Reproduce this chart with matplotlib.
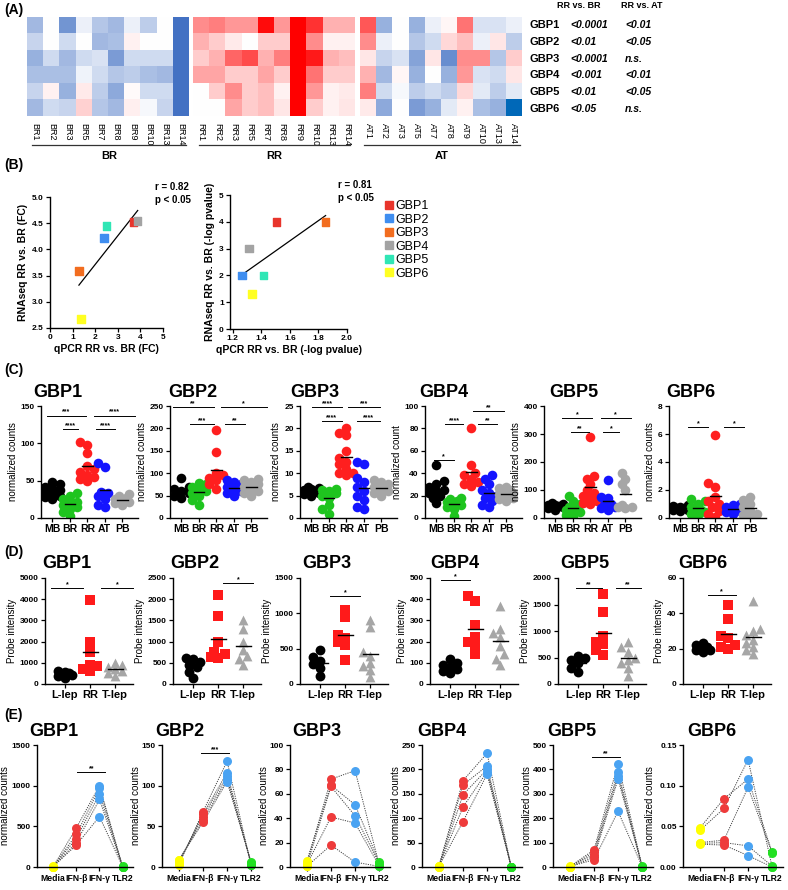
import numpy as np
import matplotlib
matplotlib.use('Agg')
import matplotlib.pyplot as plt
from matplotlib.colors import LinearSegmentedColormap, Normalize
from matplotlib.lines import Line2D

plt.rcParams['font.family'] = ['Liberation Sans', 'DejaVu Sans']

# ---------------- data ----------------
genes = ['GBP1', 'GBP2', 'GBP3', 'GBP4', 'GBP5', 'GBP6']

# (A) heatmap, rows GBP1..GBP6, z-score like values
br_samples = ['BR1', 'BR2', 'BR3', 'BR5', 'BR7', 'BR8', 'BR9', 'BR10', 'BR13', 'BR14']
rr_samples = ['RR1', 'RR2', 'RR3', 'RR5', 'RR7', 'RR8', 'RR9', 'RR10', 'RR13', 'RR14']
at_samples = ['AT1', 'AT2', 'AT3', 'AT5', 'AT7', 'AT8', 'AT9', 'AT10', 'AT13', 'AT14']
br_heat = [[-0.5, 0, -0.75, -0.1, -0.4, -0.5, -0.1, -0.35, 0, -1],
           [-0.3, 0, -0.25, 0, -0.5, -0.45, 0.05, 0, 0, -1],
           [-0.55, -0.25, -0.5, -0.25, -0.2, -0.7, -0.25, -0.25, -0.25, -1],
           [-0.45, -0.45, -0.45, -0.08, -0.25, -0.4, -0.35, -0.45, -0.5, -1],
           [-0.3, 0.05, -0.55, 0.08, -0.35, -0.6, 0.02, -0.25, -0.25, -1],
           [-0.5, -0.25, -0.3, 0.18, -0.4, -0.5, 0.06, -0.05, -0.3, -1]]
rr_heat = [[0.45, 0.5, 0.4, 0.4, 0.95, 0.4, 1, 0.8, 0.3, 0.3],
           [0.3, 0.2, 0.08, 0, 0.2, 0.2, 1, 0.45, 0.05, 0.05],
           [0.2, 0.3, 0.6, 0.7, 0.3, 0.5, 1, 0.9, 0.3, 0.25],
           [0.35, 0.35, 0.2, 0.2, 0.35, 0.2, 1, 0.55, 0.2, 0.2],
           [0, 0.2, 0.45, 0.2, 0.25, 0.05, 1, 0.4, 0.05, 0.08],
           [0, 0, 0.35, 0.2, 0.25, 0.1, 1, 0.2, 0.05, 0.1]]
at_heat = [[0.65, -0.55, 0, -0.55, -0.1, 0.03, 0.55, -0.2, -0.2, -0.1],
           [0.45, -0.1, 0, -0.4, -0.25, 0.15, 0.25, -0.1, 0.1, -0.35],
           [0.1, -0.3, -0.2, -0.65, 0.1, -0.8, 0.45, 0.45, -0.4, 0.2],
           [0.3, -0.5, 0.03, -0.55, 0, -0.55, 0.4, -0.2, -0.25, 0.1],
           [0.5, -0.25, -0.05, -0.35, -0.25, -0.35, 0.15, -0.15, -0.35, -0.15],
           [0.08, -0.6, 0, -0.7, -0.55, -0.15, 0.05, -0.45, -0.55, -1.3]]
p_rr_br = ['<0.0001', '<0.01', '<0.0001', '<0.001', '<0.01', '<0.05']
p_rr_at = ['<0.01', '<0.05', 'n.s.', '<0.01', '<0.05', 'n.s.']

# (B) correlation
gbp_colors = ['#e8352c', '#3f8ef0', '#f26d1f', '#a3a3a3', '#30e6b5', '#ffff22']
qpcr_fc = [3.7, 2.4, 1.28, 3.88, 2.5, 1.37]
rnaseq_fc = [4.52, 4.22, 3.59, 4.54, 4.45, 2.67]
qpcr_logp = [1.507, 1.264, 1.85, 1.314, 1.414, 1.336]
rnaseq_logp = [4, 2, 4, 3, 2, 1.3]

# (C) RNAseq normalized counts: MB, BR, RR, AT, PB
c_groups = ['MB', 'BR', 'RR', 'AT', 'PB']
c_colors = ['black', '#1fc41f', '#ff1f1f', '#1414ff', '#a6a6a6']
c_gbp1 = [[26, 28, 30, 33, 35, 37, 40, 42, 45, 48], [3, 8, 12, 15, 18, 20, 22, 26, 30, 33],
          [50, 52, 55, 58, 62, 65, 70, 87, 98, 102], [15, 18, 25, 30, 33, 35, 68, 73],
          [17, 20, 22, 24, 25, 27, 30, 32]]
c_gbp2 = [[45, 50, 55, 60, 65, 70, 90], [28, 40, 50, 55, 60, 65, 70, 75, 78],
          [65, 75, 85, 90, 95, 100, 148, 196], [50, 55, 60, 65, 70, 75, 80, 85],
          [50, 55, 60, 65, 70, 75, 80, 85, 88]]
c_gbp3 = [[5, 5.3, 5.6, 5.8, 6, 6.2, 6.5, 6.8, 7], [1, 2, 3, 4.5, 5, 5.5, 6, 6.2, 6.4],
          [9.5, 10, 10, 11, 12, 12.5, 13.5, 15, 18.5, 19, 20], [2, 2.5, 4, 5, 6, 7, 8, 9, 12, 12.5],
          [5, 5.5, 6, 6.5, 7, 7.5, 8, 8.5]]
c_gbp4 = [[13, 18, 20, 22, 24, 25, 28, 30, 33, 47], [2, 8, 10, 12, 13, 14, 15, 17, 18],
          [29, 30, 32, 35, 38, 40, 47, 80], [10, 12, 15, 18, 20, 22, 25, 30, 35, 38],
          [15, 17, 18, 20, 21, 22, 23, 25, 27, 28]]
c_gbp5 = [[30, 35, 38, 40, 42, 45, 48, 50, 55], [5, 10, 20, 25, 30, 35, 40, 50, 60, 80],
          [50, 55, 60, 70, 80, 90, 100, 120, 140, 150, 290], [30, 35, 40, 45, 50, 70, 75, 135],
          [35, 38, 40, 45, 100, 120, 140, 160]]
c_gbp6 = [[0.5, 0.55, 0.6, 0.7, 0.75, 0.8, 0.85, 0.9], [0.2, 0.3, 0.4, 0.5, 0.6, 0.8, 1.0, 1.2, 1.35],
          [0.1, 0.3, 0.5, 0.8, 1.0, 1.2, 1.5, 2.2, 2.5, 5.9], [0.3, 0.4, 0.5, 0.6, 0.7, 0.8, 0.9, 1.0],
          [0.1, 0.2, 0.3, 0.5, 0.8, 1.0, 1.3, 1.5]]
c_data = [c_gbp1, c_gbp2, c_gbp3, c_gbp4, c_gbp5, c_gbp6]
c_ymax = [150, 250, 25, 100, 400, 8]
c_ystep = [50, 50, 5, 20, 100, 2]
c_ylabels = ['normalized counts'] * 3 + ['normalized count'] + ['normalized counts'] * 2
c_sig = [[(0.7, 2.9, 137, '***'), (3.4, 5.7, 137, '****'), (1.6, 2.45, 119, '****'), (3.5, 4.6, 119, '****')],
         [(0.5, 2.85, 248, '**'), (3.25, 5.9, 248, '*'), (1.5, 2.85, 210, '***'), (3.5, 4.65, 210, '**')],
         [(1.05, 2.75, 24.7, '****'), (3.1, 4.95, 24.7, '***'), (1.6, 2.75, 21.7, '****'), (3.6, 4.95, 21.7, '****')],
         [(3.1, 4.85, 95.5, '**'), (1.5, 2.55, 84, '****'), (3.4, 4.45, 84, '**'), (0.85, 2.0, 52, '*')],
         [(1.4, 3.1, 357, '*'), (3.6, 5.3, 357, '*'), (1.9, 2.9, 307, '**'), (3.7, 4.66, 307, '*')],
         [(1.46, 2.6, 6.5, '*'), (3.5, 4.66, 6.5, '*')]]

# (D) microarray probe intensity: L-lep, RR, T-lep
d_groups = ['L-lep', 'RR', 'T-lep']
d_gbp1 = [[270, 380, 420, 450, 500, 550, 600], [600, 700, 850, 900, 1500, 2000, 3950],
          [400, 500, 600, 700, 800, 900, 1000]]
d_gbp2 = [[130, 280, 400, 450, 520, 580, 620], [620, 640, 700, 750, 1000, 1600, 2100],
          [450, 600, 650, 800, 1000, 1300, 1500]]
d_gbp3 = [[120, 230, 280, 330, 380, 480], [340, 550, 600, 650, 700, 950, 1050],
          [100, 200, 250, 300, 400, 450, 800, 900]]
d_gbp4 = [[50, 60, 70, 80, 90, 100, 120], [140, 180, 200, 220, 280, 390, 415],
          [90, 120, 140, 180, 220, 240, 260, 370]]
d_gbp5 = [[220, 300, 400, 450, 500, 520], [550, 650, 750, 800, 900, 1350, 1700],
          [150, 300, 400, 450, 500, 600, 700, 800]]
d_gbp6 = [[18, 19, 19.5, 20, 21, 22, 23], [20, 21, 22, 26, 27, 37, 44.5],
          [17, 19, 21, 23, 25, 28, 30, 31, 47]]
d_data = [d_gbp1, d_gbp2, d_gbp3, d_gbp4, d_gbp5, d_gbp6]
d_ymax = [5000, 2500, 1500, 500, 2000, 60]
d_ystep = [1000, 500, 500, 100, 500, 20]
d_sig = [[(0.45, 1.7, 4530, '*'), (2.45, 3.7, 4530, '*')],
         [(2.2, 3.4, 2380, '*')],
         [(1.4, 2.6, 1245, '*')],
         [(0.65, 1.8, 490, '*')],
         [(0.9, 1.96, 1811, '**'), (2.5, 3.5, 1811, '**')],
         [(1.2, 2.3, 50.4, '*')]]

# (E) stimulated cells: Media, IFN-b, IFN-g, TLR2 (5 donors)
e_groups = ['Media', 'IFN-\u03b2', 'IFN-\u03b3', 'TLR2']
e_colors = ['#ffff00', '#ee3b3b', '#4aa3f2', '#22e022']
e_gbp1 = [[5, 3, 8, 2, 6], [480, 400, 350, 300, 270], [1000, 970, 900, 830, 620], [5, 3, 8, 2, 6]]
e_gbp2 = [[3, 5, 6, 8, 9], [68, 65, 62, 58, 55], [130, 116, 112, 108, 105], [2, 3, 4, 5, 6]]
e_gbp3 = [[3, 5, 1, 2, 0.5], [72, 67, 66, 41, 18], [79, 51, 42, 36, 4], [2, 4, 3, 1, 0.5]]
e_gbp4 = [[2, 1, 0.5, 1.5, 1], [177, 168, 148, 123, 93], [233, 207, 200, 195, 190], [1, 1, 1, 1, 1]]
e_gbp5 = [[2, 1, 3, 1, 2], [70, 60, 50, 40, 30], [423, 390, 375, 360, 228], [2, 1, 3, 1, 2]]
e_gbp6 = [[0.048, 0.045, 0.030, 0.029, 0.028], [0.084, 0.072, 0.033, 0.030, 0.027],
          [0.108, 0.132, 0.098, 0.026, 0.014], [0.018, 0.0, 0.017, 0.001, 0.0]]
e_data = [e_gbp1, e_gbp2, e_gbp3, e_gbp4, e_gbp5, e_gbp6]
e_ymax = [1500, 150, 100, 250, 500, 0.15]
e_ystep = [500, 50, 20, 50, 100, 0.05]
e_sig = [[(2.04, 3.25, 1168, '**')], [(1.9, 3.1, 140, '***')], [], [], [(1.9, 3.1, 451, '**')], []]

# ---------------- layout helpers ----------------
W, H = 788, 890
fig = plt.figure(figsize=(W / 100, H / 100), dpi=100)


def add_ax(l, t, r, b):
    return fig.add_axes([l / W, 1 - b / H, (r - l) / W, (b - t) / H])


def ftext(x, y, s, **kw):
    fig.text(x / W, 1 - y / H, s, **kw)


def fline(x1, x2, y, **kw):
    fig.add_artist(Line2D([x1 / W, x2 / W], [1 - y / H, 1 - y / H], **kw))


def style_ax(ax):
    for s in ['top', 'right']:
        ax.spines[s].set_visible(False)
    for s in ['left', 'bottom']:
        ax.spines[s].set_linewidth(1.0)
    ax.tick_params(direction='out', length=3, width=0.9, labelsize=6, pad=1.5)
    for lab in ax.get_yticklabels():
        lab.set_fontweight('bold')


def swarm(vals, y_unit, x_unit, diam=6.0):
    vals = np.asarray(vals, dtype=float)
    offs = np.zeros(len(vals))
    placed = []
    cands = [0, -1, 1, -2, 2]
    for i in np.argsort(vals):
        y = vals[i] * y_unit
        best, best_d = 0, -1
        for c in cands:
            x = c * diam * 0.55
            d = min([np.hypot(x - px, y - py) for px, py in placed] + [1e9])
            if d >= diam:
                best = x
                break
            if d > best_d:
                best, best_d = x, d
        placed.append((best, y))
        offs[i] = best / x_unit
    return offs


def draw_sig(ax, sigs, fs=5):
    for x1, x2, y, lab in sigs:
        ax.plot([x1, x2], [y, y], color='black', lw=0.7, clip_on=False)
        ax.text((x1 + x2) / 2, y, lab, ha='center', va='bottom', fontsize=fs,
                fontweight='bold', clip_on=False)


# ---------------- (A) heatmap ----------------
ftext(4, 10, '(A)', fontsize=10, fontweight='bold', va='center')
cmap = LinearSegmentedColormap.from_list(
    'bwr_gbp', [(0, '#0068b8'), (0.3 / 2.3, '#4472c4'), (1.3 / 2.3, '#ffffff'), (1, '#ff0000')])
norm = Normalize(vmin=-1.3, vmax=1.0)
blocks = [(br_heat, br_samples, 27, 189, 'BR', 32, 186),
          (rr_heat, rr_samples, 193, 355, 'RR', 199, 350),
          (at_heat, at_samples, 360, 522, 'AT', 364, 520)]
for heat, samples, x0, x1, grp, l0, l1 in blocks:
    ax = add_ax(x0, 17, x1, 116)
    ax.imshow(np.array(heat), cmap=cmap, norm=norm, aspect='auto', interpolation='nearest')
    ax.set_xticks(range(len(samples)))
    ax.set_xticklabels(samples, rotation=270, fontsize=6.5)
    ax.set_yticks([])
    ax.tick_params(axis='x', length=0, pad=5)
    for s in ax.spines.values():
        s.set_visible(False)
    fline(l0, l1, 145, color='#333333', lw=0.9)
    ftext((l0 + l1) / 2, 156, grp, ha='center', va='center', fontsize=8, fontweight='bold')

ftext(579, 5, 'RR vs. BR', ha='center', va='center', fontsize=6.5, fontweight='bold')
ftext(642, 5, 'RR vs. AT', ha='center', va='center', fontsize=6.5, fontweight='bold')
for i, g in enumerate(genes):
    y = 25.5 + i * 16.6
    ftext(529, y, g, va='center', fontsize=8, fontweight='bold')
    ftext(570, y, p_rr_br[i], va='center', fontsize=7.5, fontweight='bold', style='italic')
    ftext(625, y, p_rr_at[i], va='center', fontsize=7.5, fontweight='bold', style='italic')

# ---------------- (B) correlations ----------------
ftext(4, 165, '(B)', fontsize=10, fontweight='bold', va='center')
ax = add_ax(50, 197, 163, 328)
ax.scatter(qpcr_fc, rnaseq_fc, marker='s', s=30, c=gbp_colors, zorder=3)
fit = np.polyfit(qpcr_fc, rnaseq_fc, 1)
xs = np.array([min(qpcr_fc), max(qpcr_fc)])
ax.plot(xs, np.polyval(fit, xs), color='black', lw=0.9, zorder=2)
ax.set_xlim(0, 5)
ax.set_ylim(2.5, 5.0)
ax.set_xticks(range(6))
ax.set_yticks(np.arange(2.5, 5.01, 0.5))
ax.set_yticklabels(['%.1f' % v for v in np.arange(2.5, 5.01, 0.5)])
style_ax(ax)
for lab in ax.get_xticklabels():
    lab.set_fontweight('bold')
ax.set_xlabel('qPCR RR vs. BR (FC)', fontsize=7.5, fontweight='bold', labelpad=2)
ax.set_ylabel('RNAseq RR vs. BR (FC)', fontsize=7.5, fontweight='bold', labelpad=3)
ftext(155, 187, 'r = 0.82', fontsize=7, fontweight='bold', va='center')
ftext(155, 200, 'p < 0.05', fontsize=7, fontweight='bold', va='center')

ax = add_ax(230, 195, 347, 329)
ax.scatter(qpcr_logp, rnaseq_logp, marker='s', s=30, c=gbp_colors, zorder=3)
fit = np.polyfit(qpcr_logp, rnaseq_logp, 1)
xs = np.array([min(qpcr_logp), max(qpcr_logp)])
ax.plot(xs, np.polyval(fit, xs), color='black', lw=0.9, zorder=2)
ax.set_xlim(1.18, 2.0)
ax.set_ylim(0, 5)
ax.set_xticks([1.2, 1.4, 1.6, 1.8, 2.0])
ax.set_xticklabels(['1.2', '1.4', '1.6', '1.8', '2.0'])
ax.set_yticks(range(6))
style_ax(ax)
for lab in ax.get_xticklabels():
    lab.set_fontweight('bold')
ax.set_xlabel('qPCR RR vs. BR (-log pvalue)', fontsize=7.5, fontweight='bold', labelpad=2)
ax.set_ylabel('RNAseq RR vs. BR (-log pvalue)', fontsize=7.5, fontweight='bold', labelpad=3)
ftext(338, 185, 'r = 0.81', fontsize=7, fontweight='bold', va='center')
ftext(338, 198, 'p < 0.05', fontsize=7, fontweight='bold', va='center')

handles = [Line2D([], [], marker='s', ls='', color=c, ms=6) for c in gbp_colors]
fig.legend(handles, genes, loc='upper left', bbox_to_anchor=(378 / W, 1 - 194 / H),
           frameon=False, fontsize=9, handletextpad=0.1, labelspacing=0.12,
           handlelength=0.8, borderpad=0)

# ---------------- (C) RNAseq dot plots ----------------
ftext(4, 370, '(C)', fontsize=10, fontweight='bold', va='center')
c_left = [41, 170, 300, 425, 544, 669]
c_title_x = [33, 168, 290, 419, 549, 666]
c_top, c_bot = 406, 518
for k in range(6):
    ax = add_ax(c_left[k], c_top, c_left[k] + 97, c_bot)
    ymax = c_ymax[k]
    y_unit = (c_bot - c_top) / ymax
    for gi, vals in enumerate(c_data[k]):
        xo = swarm(vals, y_unit, 17.5, diam=6.5)
        ax.scatter(gi + 1 + xo, vals, s=48, color=c_colors[gi], zorder=2, linewidths=0)
        m = np.mean(vals)
        ax.plot([gi + 1 - 0.3, gi + 1 + 0.3], [m, m], color='black', lw=1.0, zorder=3)
    ax.set_xlim(0.35, 5.9)
    ax.set_ylim(0, ymax)
    ax.set_yticks(np.arange(0, ymax * 1.001, c_ystep[k]))
    ax.set_xticks(range(1, 6))
    style_ax(ax)
    ax.set_xticklabels(c_groups, fontsize=7.5, fontweight='bold')
    ax.set_ylabel(c_ylabels[k], fontsize=7, labelpad=2)
    draw_sig(ax, c_sig[k])
    ftext(c_title_x[k], 392, genes[k], fontsize=13, fontweight='bold', va='center')

# ---------------- (D) probe intensity ----------------
ftext(4, 552, '(D)', fontsize=10, fontweight='bold', va='center')
d_left = [45, 173, 300, 430, 558, 683]
d_title_x = [42, 170, 302, 430, 560, 678]
d_markers = ['o', 's', '^']
d_colors = ['black', '#ff1a1a', '#a6a6a6']
d_top, d_bot = 578, 684
for k in range(6):
    ax = add_ax(d_left[k], d_top, d_left[k] + 88, d_bot)
    ymax = d_ymax[k]
    y_unit = (d_bot - d_top) / ymax
    for gi, vals in enumerate(d_data[k]):
        xo = swarm(vals, y_unit, 25, diam=6.5)
        ax.scatter(gi + 1 + xo, vals, s=50, marker=d_markers[gi], color=d_colors[gi],
                   zorder=2, linewidths=0)
        m = np.mean(vals)
        ax.plot([gi + 1 - 0.3, gi + 1 + 0.3], [m, m], color='black', lw=1.0, zorder=3)
    ax.set_xlim(0.2, 3.72)
    ax.set_ylim(0, ymax)
    ax.set_yticks(np.arange(0, ymax * 1.001, d_ystep[k]))
    ax.set_xticks(range(1, 4))
    style_ax(ax)
    ax.set_xticklabels(d_groups, fontsize=8, fontweight='bold')
    ax.set_ylabel('Probe intensity', fontsize=7, labelpad=2)
    draw_sig(ax, d_sig[k])
    ftext(d_title_x[k], 563, genes[k], fontsize=13, fontweight='bold', va='center')

# ---------------- (E) stimulation ----------------
ftext(4, 715, '(E)', fontsize=10, fontweight='bold', va='center')
e_left = [37, 162, 290, 422, 553, 683]
e_title_x = [29, 155, 292, 417, 547, 687]
e_top, e_bot = 745, 867
for k in range(6):
    width = 96 if k == 0 else 100
    ax = add_ax(e_left[k], e_top, e_left[k] + width, e_bot)
    ymax = e_ymax[k]
    conds = e_data[k]
    for donor in zip(*conds):
        ax.plot(range(1, 5), donor, ls=(0, (1.2, 1.2)), color='#444444', lw=0.7, zorder=1)
    for ci, vals in enumerate(conds):
        ax.scatter([ci + 1] * len(vals), vals, s=42, color=e_colors[ci], zorder=2,
                   linewidths=0, clip_on=False)
    ax.set_xlim(0.3, 4.45)
    ax.set_ylim(0, ymax)
    ticks = np.arange(0, ymax * 1.001, e_ystep[k])
    ax.set_yticks(ticks)
    if ymax < 1:
        ax.set_yticklabels(['%.2f' % t for t in ticks])
    ax.set_xticks(range(1, 5))
    style_ax(ax)
    ax.set_xticklabels(e_groups, fontsize=6.2, fontweight='bold')
    ax.tick_params(axis='x', pad=2)
    ax.set_ylabel('normalized counts', fontsize=7)
    ax.yaxis.set_label_coords(-0.28 if ymax >= 1000 or ymax < 1 else -0.21, 0.5)
    draw_sig(ax, e_sig[k])
    ftext(e_title_x[k], 732, genes[k], fontsize=13, fontweight='bold', va='center')

fig.savefig('out.png', dpi=100)
